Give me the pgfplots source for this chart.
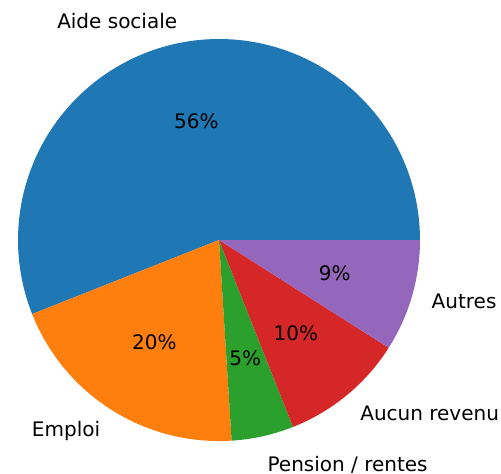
\documentclass[border=0pt]{standalone}
\usepackage{pgfplots}
\pgfplotsset{compat=1.18}
\usepackage{fontspec}
\setmainfont{DejaVu Sans}
\definecolor{c1}{HTML}{1F77B4}
\definecolor{c2}{HTML}{FF7F0E}
\definecolor{c3}{HTML}{2CA02C}
\definecolor{c4}{HTML}{D62728}
\definecolor{c5}{HTML}{9467BD}
% shares in percent
\def\pA{56}\def\pB{20}\def\pC{5}\def\pD{10}\def\pE{9}
\begin{document}
\begin{tikzpicture}
\begin{axis}[hide axis, scale only axis, width=250.5pt, height=235pt,
  xmin=-1.0896, xmax=1.403, ymin=-1.144, ymax=1.194, clip=false,
  every node/.style={font=\fontsize{9.3}{11}\selectfont}]
\path (rel axis cs:0,0) rectangle (rel axis cs:1,1);
\pgfmathsetmacro{\aA}{0}
\pgfmathsetmacro{\aB}{\aA+3.6*\pA}
\pgfmathsetmacro{\aC}{\aB+3.6*\pB}
\pgfmathsetmacro{\aD}{\aC+3.6*\pC}
\pgfmathsetmacro{\aE}{\aD+3.6*\pD}
\pgfmathsetmacro{\aF}{\aE+3.6*\pE}
\addplot[fill=c1, draw=none, domain=\aA:\aB, samples=120, variable=\t] ({cos(\t)},{sin(\t)}) -- (axis cs:0,0) -- cycle;
\addplot[fill=c2, draw=none, domain=\aB:\aC, samples=60, variable=\t] ({cos(\t)},{sin(\t)}) -- (axis cs:0,0) -- cycle;
\addplot[fill=c3, draw=none, domain=\aC:\aD, samples=20, variable=\t] ({cos(\t)},{sin(\t)}) -- (axis cs:0,0) -- cycle;
\addplot[fill=c4, draw=none, domain=\aD:\aE, samples=40, variable=\t] ({cos(\t)},{sin(\t)}) -- (axis cs:0,0) -- cycle;
\addplot[fill=c5, draw=none, domain=\aE:\aF, samples=40, variable=\t] ({cos(\t)},{sin(\t)}) -- (axis cs:0,0) -- cycle;
% percentage labels
\pgfmathsetmacro{\mA}{(\aA+\aB)/2}\pgfmathsetmacro{\mB}{(\aB+\aC)/2}
\pgfmathsetmacro{\mC}{(\aC+\aD)/2}\pgfmathsetmacro{\mD}{(\aD+\aE)/2}
\pgfmathsetmacro{\mE}{(\aE+\aF)/2}
\node at (axis cs:{0.6*cos(\mA)},{0.6*sin(\mA)}) {56\%};
\node at (axis cs:{0.6*cos(\mB)},{0.6*sin(\mB)}) {20\%};
\node at (axis cs:{0.6*cos(\mC)},{0.6*sin(\mC)}) {5\%};
\node at (axis cs:{0.6*cos(\mD)},{0.6*sin(\mD)}) {10\%};
\node at (axis cs:{0.6*cos(\mE)},{0.6*sin(\mE)}) {9\%};
% category labels
\node[anchor=east, inner sep=0pt] at (axis cs:{1.1*cos(\mA)},{1.1*sin(\mA)+0.01}) {Aide sociale};
\node[anchor=east, inner sep=0pt] at (axis cs:{1.1*cos(\mB)},{1.1*sin(\mB)-0.02}) {Emploi};
\node[anchor=west, inner sep=0pt] at (axis cs:{1.1*cos(\mC)},{1.1*sin(\mC)-0.045}) {Pension / rentes};
\node[anchor=west, inner sep=0pt] at (axis cs:{1.1*cos(\mD)},{1.1*sin(\mD)-0.015}) {Aucun revenu};
\node[anchor=west, inner sep=0pt] at (axis cs:{1.1*cos(\mE)},{1.1*sin(\mE)}) {Autres};
\end{axis}
\end{tikzpicture}
\end{document}
